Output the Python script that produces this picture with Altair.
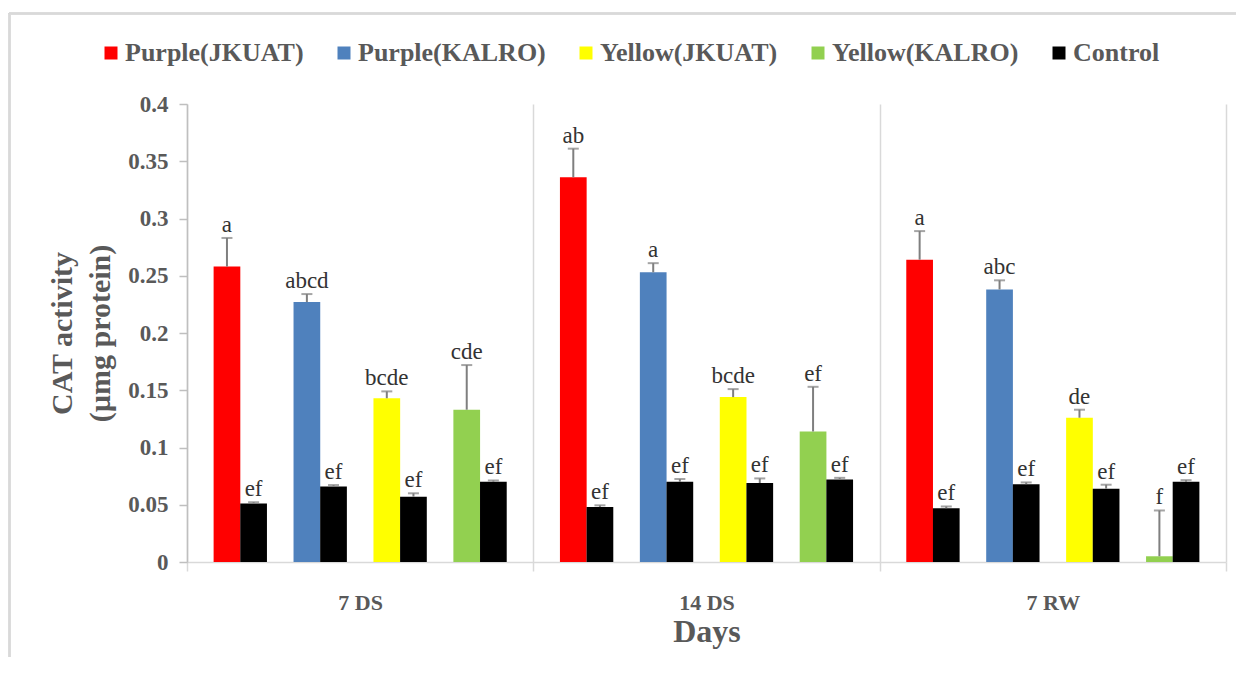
import altair as alt
import pandas as pd

days = ["7 DS", "14 DS", "7 RW"]
varieties = ["Purple(JKUAT)", "Purple(KALRO)", "Yellow(JKUAT)", "Yellow(KALRO)"]
series_order = varieties + ["Control"]
series_colors = ["#FF0000", "#4F81BD", "#FFFF00", "#92D050", "#000000"]

# mean CAT activity of each variety (rows: days, cols: varieties)
variety_means = [
    [0.258, 0.227, 0.143, 0.133],
    [0.336, 0.253, 0.144, 0.114],
    [0.264, 0.238, 0.126, 0.005],
]
variety_errors = [
    [0.025, 0.007, 0.006, 0.039],
    [0.025, 0.008, 0.007, 0.039],
    [0.025, 0.008, 0.007, 0.040],
]
variety_letters = [
    ["a", "abcd", "bcde", "cde"],
    ["ab", "a", "bcde", "ef"],
    ["a", "abc", "de", "f"],
]
# matching control of each variety
control_means = [
    [0.051, 0.066, 0.057, 0.070],
    [0.048, 0.070, 0.069, 0.072],
    [0.047, 0.068, 0.064, 0.070],
]
control_errors = [
    [0.0012, 0.0012, 0.003, 0.0012],
    [0.0015, 0.0025, 0.004, 0.0015],
    [0.0015, 0.0015, 0.0035, 0.0015],
]
control_letters = [
    ["ef", "ef", "ef", "ef"],
    ["ef", "ef", "ef", "ef"],
    ["ef", "ef", "ef", "ef"],
]
y_ticks = [0, 0.05, 0.1, 0.15, 0.2, 0.25, 0.3, 0.35, 0.4]

# slot order inside each day group: variety, control, gap, ...
slot_order = ["v0", "c0", "g0", "v1", "c1", "g1", "v2", "c2", "g2", "v3", "c3"]

rows = []
for d, day in enumerate(days):
    for k, var in enumerate(varieties):
        m, e = variety_means[d][k], variety_errors[d][k]
        rows.append(dict(Day=day, Slot=f"v{k}", Series=var, Value=m,
                         Top=m + e, Letter=variety_letters[d][k]))
        m, e = control_means[d][k], control_errors[d][k]
        rows.append(dict(Day=day, Slot=f"c{k}", Series="Control", Value=m,
                         Top=m + e, Letter=control_letters[d][k]))
df = pd.DataFrame(rows)

FONT = "Liberation Serif, Times New Roman, serif"
GREY_TXT = "#595959"
LINE = "#d9d9d9"

x_enc = alt.X(
    "Day:N", sort=days,
    scale=alt.Scale(paddingInner=0, paddingOuter=0),
    axis=alt.Axis(
        title="Days", labelAngle=0, tickBand="extent", grid=True,
        gridColor=LINE, gridWidth=1.5, domainColor=LINE, domainWidth=1.5,
        tickColor=LINE, tickWidth=1.5, tickSize=9,
        labelFont=FONT, labelFontSize=22, labelFontWeight="bold",
        labelColor=GREY_TXT, labelPadding=21,
        titleFont=FONT, titleFontSize=32, titleFontWeight="bold",
        titleColor=GREY_TXT, titlePadding=3,
    ),
)
xoff_enc = alt.XOffset(
    "Slot:N", scale=alt.Scale(domain=slot_order, paddingInner=0, paddingOuter=1)
)
y_scale = alt.Scale(domain=[0, 0.4], nice=False, zero=True)
y_axis = alt.Axis(
    title=["CAT activity", "(µmg protein)"], values=y_ticks, format=".2~f",
    grid=False, domainColor="#bfbfbf", domainWidth=1.5, tickColor="#bfbfbf",
    tickWidth=1.5, tickSize=8,
    labelFont=FONT, labelFontSize=23, labelFontWeight="bold",
    labelColor=GREY_TXT, labelPadding=11,
    titleFont=FONT, titleFontSize=30, titleFontWeight="bold",
    titleColor=GREY_TXT, titleLineHeight=38, titleBaseline="middle",
    titleAngle=-90, titleX=-125, titleY=229, titleAlign="center",
)

base = alt.Chart(df)

bars = base.mark_bar(size=26.7).encode(
    x=x_enc, xOffset=xoff_enc,
    y=alt.Y("Value:Q", scale=y_scale, axis=y_axis),
    color=alt.Color(
        "Series:N",
        scale=alt.Scale(domain=series_order, range=series_colors),
        legend=alt.Legend(
            title=None, orient="none", legendX=-89, legendY=-64,
            direction="horizontal", columns=5, symbolType="square",
            symbolSize=169, symbolStrokeWidth=0, labelOffset=1,
            columnPadding=27, labelFont=FONT, labelFontSize=26,
            labelFontWeight="bold", labelColor=GREY_TXT, labelLimit=400,
        ),
    ),
)

err = base.mark_rule(color="#7f7f7f", strokeWidth=2).encode(
    x=x_enc, xOffset=xoff_enc,
    y=alt.Y("Value:Q", scale=y_scale, axis=y_axis), y2="Top:Q",
)
caps = base.mark_tick(color="#7f7f7f", thickness=2, size=11, orient="horizontal").encode(
    x=x_enc, xOffset=xoff_enc,
    y=alt.Y("Top:Q", scale=y_scale, axis=y_axis),
)
letters = base.mark_text(
    font=FONT, fontSize=23, color="#333333", baseline="alphabetic", dy=-6
).encode(
    x=x_enc, xOffset=xoff_enc,
    y=alt.Y("Top:Q", scale=y_scale, axis=y_axis),
    text="Letter:N",
)

frame_left = alt.Chart(df).mark_rule(color=LINE, strokeWidth=1.5).encode(
    x=alt.value(-177.5), y=alt.value(-90.5), y2=alt.value(600)
)
frame_top = alt.Chart(df).mark_rule(color=LINE, strokeWidth=1.5).encode(
    x=alt.value(-178), x2=alt.value(1060), y=alt.value(-90.5)
)

chart = (
    alt.layer(frame_left, frame_top, bars, err, caps, letters)
    .properties(
        width=1039, height=458,
        autosize=alt.AutoSizeParams(type="none"),
        padding={"left": 179, "top": 96, "right": 10, "bottom": 95},
        background="white",
    )
    .configure(font=FONT)
    .configure_view(stroke="transparent")
    .configure_axis(labelFont=FONT, titleFont=FONT)
    .configure_legend(labelFont=FONT)
)

chart.save("out.html", embed_options={"renderer": "svg", "actions": False})
